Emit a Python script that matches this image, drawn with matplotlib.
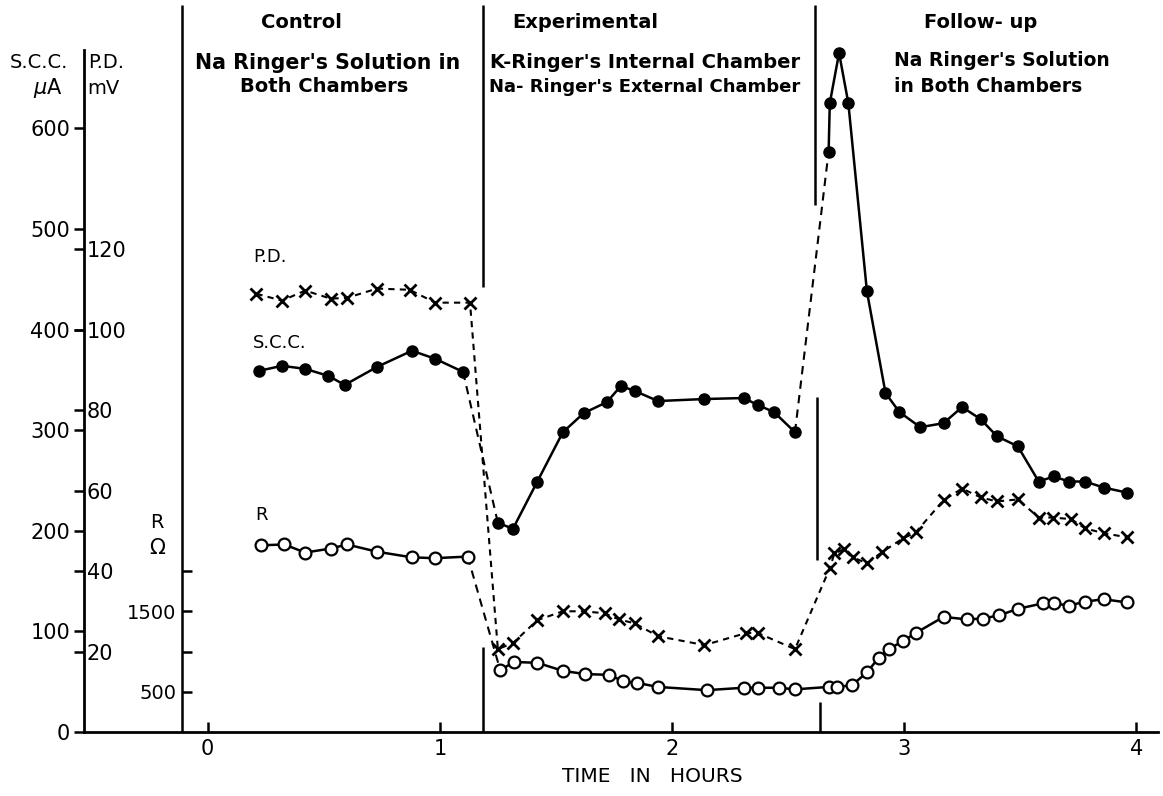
import matplotlib
matplotlib.use('Agg')
import matplotlib.pyplot as plt

###############################################################################
# data (time in hours)
# S.C.C. (uA)
ctrl_time_scc = [0.22, 0.32, 0.42, 0.52, 0.59, 0.73, 0.88, 0.98, 1.10]
ctrl_scc = [359, 364, 361, 354, 345, 363, 379, 371, 358]
exp_time_scc = [1.25, 1.315, 1.42, 1.53, 1.62, 1.72, 1.78, 1.84, 1.94, 2.14, 2.31, 2.37, 2.44, 2.53]
exp_scc = [208, 202, 249, 298, 317, 328, 344, 339, 329, 331, 332, 325, 318, 298]
fu_time_scc = [2.675, 2.68, 2.72, 2.76, 2.84, 2.92, 2.98, 3.07, 3.17, 3.25, 3.33, 3.40,
               3.49, 3.58, 3.645, 3.71, 3.78, 3.86, 3.96]
fu_scc = [577, 625, 675, 625, 438, 337, 318, 303, 307, 323, 311, 294,
          284, 249, 254, 249, 249, 243, 238]

# P.D. (mV)
ctrl_time_pd = [0.21, 0.32, 0.42, 0.53, 0.60, 0.73, 0.87, 0.98, 1.13]
ctrl_pd = [108.9, 107.2, 109.7, 107.7, 107.9, 110.2, 109.9, 106.7, 106.7]
exp_time_pd = [1.25, 1.315, 1.42, 1.53, 1.62, 1.71, 1.77, 1.84, 1.94, 2.14, 2.32, 2.37, 2.53]
exp_pd = [20.6, 22.1, 27.8, 30.0, 30.0, 29.5, 28.0, 27.0, 23.8, 21.6, 24.6, 24.6, 20.6]
fu_time_pd = [2.68, 2.70, 2.74, 2.78, 2.84, 2.905, 2.995, 3.05, 3.17, 3.25, 3.33, 3.40,
              3.49, 3.58, 3.64, 3.72, 3.78, 3.86, 3.96]
fu_pd = [40.7, 44.4, 45.4, 43.4, 41.9, 44.7, 48.1, 49.6, 57.6, 60.5, 58.3, 57.3,
         57.8, 53.3, 53.3, 52.9, 50.6, 49.4, 48.4]

# R (ohm)
ctrl_time_r = [0.23, 0.33, 0.42, 0.53, 0.60, 0.73, 0.88, 0.98, 1.12]
ctrl_r = [2320, 2330, 2230, 2280, 2330, 2240, 2170, 2160, 2180]
exp_time_r = [1.26, 1.32, 1.42, 1.53, 1.625, 1.73, 1.79, 1.85, 1.94, 2.15, 2.31, 2.37, 2.46, 2.53]
exp_r = [770, 870, 860, 760, 720, 710, 630, 610, 560, 520, 550, 550, 550, 530]
fu_time_r = [2.675, 2.71, 2.775, 2.84, 2.89, 2.935, 2.995, 3.05, 3.17, 3.27, 3.34, 3.41,
             3.49, 3.60, 3.645, 3.71, 3.78, 3.86, 3.96]
fu_r = [560, 560, 580, 740, 920, 1030, 1130, 1230, 1430, 1400, 1410, 1450,
        1530, 1600, 1600, 1570, 1620, 1650, 1610]

scc_ticks = [0, 100, 200, 300, 400, 500, 600]
pd_ticks = [20, 40, 60, 80, 100, 120]
r_ticks = [500, 1000, 1500, 2000]
r_ticklabels = ['500', '', '1500', '']
time_ticks = [0, 1, 2, 3, 4]

###############################################################################
PD_SCALE = 4.0    # 1 mV  -> 4 uA on the S.C.C. scale
R_SCALE = 12.5    # 12.5 ohm -> 1 uA on the S.C.C. scale

W, H = 1163, 796
XMIN, XMAX = -0.533, 4.094
YMAX = 722.7

# phase dividers (hours)
t_div_ctrl = -0.111
t_div_exp = 1.186
t_div_fu = 2.616

def fig_xy(x, y):
    return x / W, 1 - y / H

plt.rcParams['font.family'] = ['DejaVu Sans']

fig = plt.figure(figsize=(W / 100, H / 100), dpi=100)
ax = fig.add_axes([84 / W, 64 / H, 1074 / W, 727 / H])
ax.set_xlim(XMIN, XMAX)
ax.set_ylim(0, YMAX)

for s in ['top', 'right']:
    ax.spines[s].set_visible(False)
ax.spines['left'].set_bounds(0, 678)
ax.spines['left'].set_linewidth(2)
ax.spines['bottom'].set_linewidth(2)

ax.set_yticks(scc_ticks)
ax.tick_params(axis='y', direction='out', length=7, width=1.8, pad=3, labelsize=15)
ax.set_xticks(time_ticks)
ax.tick_params(axis='x', direction='in', length=7, width=1.8, pad=5, labelsize=15)

# P.D. scale on the same line, labels to the right
pd_ax = ax.secondary_yaxis(0.0, functions=(lambda s: s / PD_SCALE, lambda p: p * PD_SCALE))
pd_ax.set_alignment('right')
pd_ax.spines['right'].set_visible(False)
pd_ax.set_yticks(pd_ticks)
pd_ax.tick_params(direction='in', length=7, width=1.8, pad=2, labelsize=15)

# R scale on the control divider line
r_frac = (t_div_ctrl - XMIN) / (XMAX - XMIN)
r_ax = ax.secondary_yaxis(r_frac, functions=(lambda s: s * R_SCALE, lambda r: r / R_SCALE))
r_ax.spines['left'].set_visible(False)
r_ax.set_yticks(r_ticks, labels=r_ticklabels)
r_ax.tick_params(direction='in', length=7, width=1.8, pad=4, labelsize=14)

# divider lines
ax.vlines(t_div_ctrl, 0, YMAX, color='black', lw=1.8)
ax.vlines(t_div_exp, 442, YMAX, color='black', lw=1.8)
ax.vlines(t_div_exp, 0, 84.5, color='black', lw=1.8)
ax.vlines(t_div_fu, 524, YMAX, color='black', lw=1.8)
ax.vlines(t_div_fu + 0.01, 171, 333, color='black', lw=1.8)
ax.vlines(t_div_fu + 0.022, 0, 30, color='black', lw=1.8)

# S.C.C.
scc_style = dict(color='black', lw=1.8, marker='o', ms=8, mfc='black', mec='black', zorder=4)
dash = dict(color='black', lw=1.5, ls=(0, (4, 3)), zorder=3)
ax.plot(ctrl_time_scc, ctrl_scc, **scc_style)
ax.plot(exp_time_scc, exp_scc, **scc_style)
ax.plot(fu_time_scc, fu_scc, **scc_style)
ax.plot([ctrl_time_scc[-1], exp_time_scc[0]], [ctrl_scc[-1], exp_scc[0]], **dash)
ax.plot([exp_time_scc[-1], fu_time_scc[0]], [exp_scc[-1], fu_scc[0]], **dash)

# P.D. (dashed throughout)
pd_time = ctrl_time_pd + exp_time_pd + fu_time_pd
pd_vals = [p * PD_SCALE for p in ctrl_pd + exp_pd + fu_pd]
ax.plot(pd_time, pd_vals, color='black', lw=1.5, ls=(0, (3, 2.5)), zorder=3)
ax.plot(pd_time, pd_vals, ls='none', marker='x', ms=8, mew=2, color='black', zorder=5)

# R
r_style = dict(color='black', lw=1.8, marker='o', ms=8.5, mfc='white', mec='black', mew=1.6, zorder=4)
ax.plot(ctrl_time_r, [r / R_SCALE for r in ctrl_r], **r_style)
ax.plot(exp_time_r + fu_time_r, [r / R_SCALE for r in exp_r + fu_r], **r_style)
ax.plot([ctrl_time_r[-1], exp_time_r[0]], [ctrl_r[-1] / R_SCALE, exp_r[0] / R_SCALE], **dash)

# axis titles
fig.text(*fig_xy(39, 63), 'S.C.C.', ha='center', va='center', fontsize=14)
fig.text(*fig_xy(48, 88), r'$\mu$A', ha='center', va='center', fontsize=15)
fig.text(*fig_xy(106, 63), 'P.D.', ha='center', va='center', fontsize=14)
fig.text(*fig_xy(103, 88), 'mV', ha='center', va='center', fontsize=14)
fig.text(*fig_xy(157, 523), 'R', ha='center', va='center', fontsize=14)
fig.text(*fig_xy(157, 548), '\u03a9', ha='center', va='center', fontsize=15)
fig.text(*fig_xy(652, 776), 'TIME   IN   HOURS', ha='center', va='center', fontsize=14.5)

# curve labels
fig.text(*fig_xy(253, 257), 'P.D.', ha='left', va='center', fontsize=13)
fig.text(*fig_xy(253, 343), 'S.C.C.', ha='left', va='center', fontsize=13)
fig.text(*fig_xy(255, 515), 'R', ha='left', va='center', fontsize=13)

# phase headers
hdr = dict(va='center', fontweight='bold')
fig.text(*fig_xy(301, 22), 'Control', ha='center', fontsize=14, **hdr)
fig.text(*fig_xy(328, 63), "Na Ringer's Solution in", ha='center', fontsize=14.8, **hdr)
fig.text(*fig_xy(324, 87), 'Both Chambers', ha='center', fontsize=14, **hdr)
fig.text(*fig_xy(585, 22), 'Experimental', ha='center', fontsize=14, **hdr)
fig.text(*fig_xy(490, 63), "K-Ringer's Internal Chamber", ha='left', fontsize=14, **hdr)
fig.text(*fig_xy(489, 87), "Na- Ringer's External Chamber", ha='left', fontsize=13, **hdr)
fig.text(*fig_xy(981, 22), 'Follow- up', ha='center', fontsize=14, **hdr)
fig.text(*fig_xy(894, 60), "Na Ringer's Solution", ha='left', fontsize=13.5, **hdr)
fig.text(*fig_xy(894, 87), 'in Both Chambers', ha='left', fontsize=13.5, **hdr)

plt.savefig('out.png', dpi=100)
print('Created : out.png')
